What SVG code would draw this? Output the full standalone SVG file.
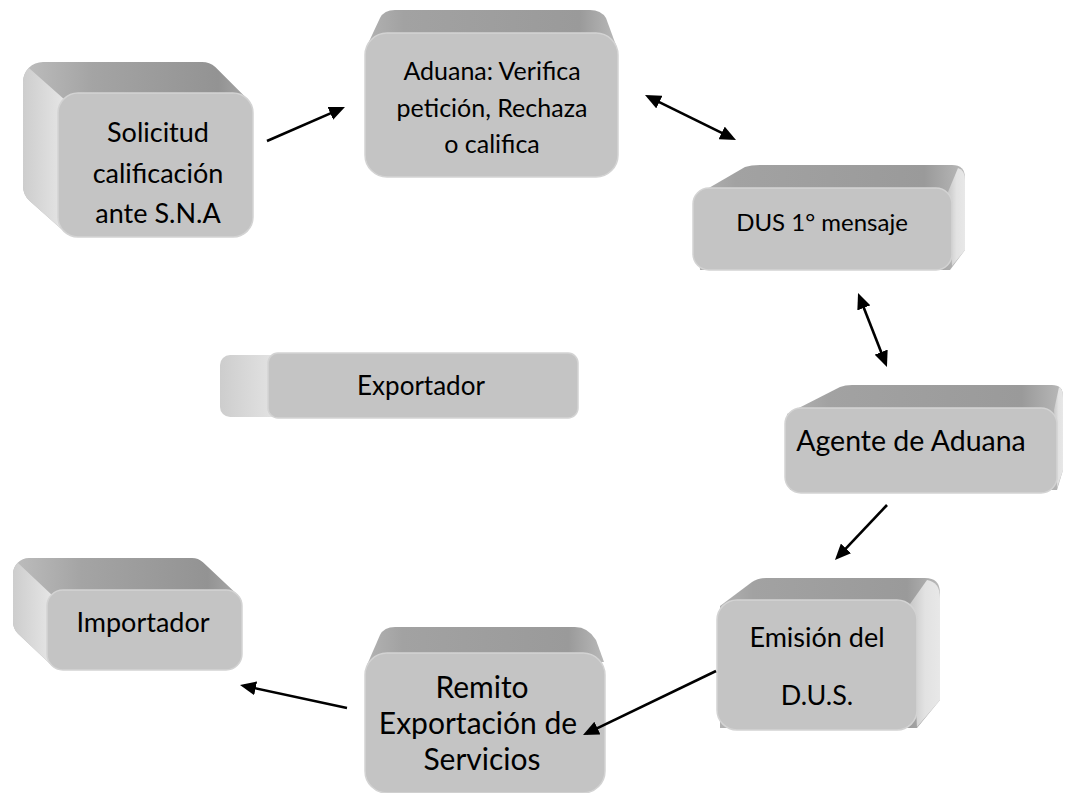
<svg xmlns="http://www.w3.org/2000/svg" width="1085" height="793" viewBox="0 0 1085 793">
<style>
.front{fill:#c4c4c4;stroke:#d3d3d3;stroke-width:1.5}
.top{fill:url(#gTop)}
.topv{fill:url(#gTopH)}
.side{fill:url(#gSide)}
.rside{fill:url(#gRSide)}
.t{font-family:Lato,"Liberation Sans",sans-serif;fill:#000;text-anchor:middle}
.conn line{stroke:#000;stroke-width:2.6;marker-end:url(#ah)}
.conn line.both{marker-start:url(#ah)}
</style>
<defs>
<linearGradient id="gTop" x1="0" y1="0" x2="1" y2="0">
<stop offset="0" stop-color="#bdbdbd"/><stop offset="0.3" stop-color="#a4a4a4"/><stop offset="0.85" stop-color="#939393"/><stop offset="1" stop-color="#ababab"/>
</linearGradient>
<linearGradient id="gTopH" x1="0" y1="0" x2="1" y2="0">
<stop offset="0" stop-color="#b2b2b2"/><stop offset="0.15" stop-color="#a2a2a2"/><stop offset="0.85" stop-color="#9a9a9a"/><stop offset="1" stop-color="#b9b9b9"/>
</linearGradient>
<linearGradient id="gSide" x1="0" y1="0" x2="1" y2="0">
<stop offset="0" stop-color="#cdcdcd"/><stop offset="1" stop-color="#e6e6e6"/>
</linearGradient>
<linearGradient id="gRSide" x1="0" y1="0" x2="1" y2="0">
<stop offset="0" stop-color="#c8c8c8"/><stop offset="0.5" stop-color="#e2e2e2"/><stop offset="1" stop-color="#e8e8e8"/>
</linearGradient>
<marker id="ah" markerUnits="userSpaceOnUse" markerWidth="16" markerHeight="14" refX="12" refY="7" orient="auto-start-reverse">
<path d="M0,0 L16,7 L0,14 Z" fill="#000"/>
</marker>
</defs>

<g id="n-solicitud">
<path class="top" d="M23,82 A20 20 0 0 1 43,62 L202,62 A20 20 0 0 1 215.3,67 L246.3,98 A20 20 0 0 1 253,113 L253,217 A20 20 0 0 1 233,237 L78,237 A20 20 0 0 1 64.7,232 L29.7,201 A20 20 0 0 1 23,186 Z"/>
<path class="side" d="M28.9,67.9 L63.9,98.9 L64.7,232 L29.7,201 A20 20 0 0 1 23,186 L23,82 A20 20 0 0 1 28.9,67.9 Z"/>
<rect class="front" x="58" y="93" width="195" height="144" rx="20"/>
<text class="t" font-size="27"><tspan x="158" y="142">Solicitud</tspan><tspan x="158" y="183">calificación</tspan><tspan x="158" y="223">ante S.N.A</tspan></text>
</g>

<g id="n-aduana">
<path class="topv" d="M366,48 L380,18 Q384,10 395,10 L590,10 Q601,10 606,18 L617,48 Z"/>
<rect class="front" x="365" y="33" width="253" height="144" rx="22"/>
<text class="t" font-size="25"><tspan x="492" y="80">Aduana: Verifica</tspan><tspan x="492" y="117">petición, Rechaza</tspan><tspan x="492" y="153">o califica</tspan></text>
</g>

<g id="n-dus">
<path class="topv" d="M695,196 L745,167 Q751,165 760,165 L952,165 Q965,165 965,178 L965,250 L950,270 L700,270 Z"/>
<path class="rside" d="M948,192 L958,168 Q965,170 965,180 L965,250 L952,266 Z"/>
<rect class="front" x="693" y="188" width="259" height="82" rx="16"/>
<text class="t" font-size="24" x="822" y="231">DUS 1° mensaje</text>
</g>

<g id="n-exportador">
<rect class="side" x="220" y="355" width="62" height="62" rx="10"/>
<rect class="front" x="268" y="353" width="310" height="65" rx="10"/>
<text class="t" font-size="26" x="421" y="395">Exportador</text>
</g>

<g id="n-agente">
<path class="topv" d="M787,414 L840,387 Q845,385 852,385 L1052,385 Q1063,385 1063,396 L1063,470 L1057,490 L790,490 Z"/>
<path class="rside" d="M1054,410 L1059,387 Q1063,389 1063,398 L1063,470 L1057,488 Z"/>
<rect class="front" x="785" y="408" width="272" height="85" rx="16"/>
<text class="t" font-size="28.5" x="911" y="451">Agente de Aduana</text>
</g>

<g id="n-importador">
<path class="top" d="M13,574 A16 16 0 0 1 29,558 L192,558 A16 16 0 0 1 202.96,562.35 L236.96,594.35 A16 16 0 0 1 242,606 L242,654 A16 16 0 0 1 226,670 L63,670 A16 16 0 0 1 52.04,665.65 L18.04,633.65 A16 16 0 0 1 13,622 Z"/>
<path class="side" d="M17.69,562.69 L51.69,594.69 L52.04,665.65 L18.04,633.65 A16 16 0 0 1 13,622 L13,574 A16 16 0 0 1 17.69,562.69 Z"/>
<rect class="front" x="47" y="590" width="195" height="80" rx="16"/>
<text class="t" font-size="27" x="143" y="632">Importador</text>
</g>

<g id="n-emision">
<path class="topv" d="M720,606 L752,582 Q758,578 766,578 L925,578 Q940,578 940,593 L940,700 L917,728 L720,728 Z"/>
<path class="rside" d="M910,604 L927,580 Q940,582 940,598 L940,700 L917,727 Z"/>
<rect class="front" x="717" y="600" width="200" height="130" rx="20"/>
<text class="t" font-size="27"><tspan x="817" y="647">Emisión del</tspan><tspan x="817" y="705">D.U.S.</tspan></text>
</g>

<g id="n-remito">
<path class="topv" d="M367,665 L380,635 Q384,627 395,627 L575,627 Q588,627 596,640 L604,662 Z"/>
<rect class="front" x="365" y="653" width="240" height="140" rx="22"/>
<text class="t" font-size="30"><tspan x="482" y="698">Remito</tspan><tspan x="478" y="734">Exportación de</tspan><tspan x="482" y="770">Servicios</tspan></text>
</g>

<g id="connectors" class="conn">
<line x1="267" y1="141" x2="341.3" y2="108.6"/>
<line class="both" x1="648.6" y1="96.8" x2="732.4" y2="138.2"/>
<line class="both" x1="859.5" y1="296.7" x2="885.5" y2="363.3"/>
<line x1="887" y1="505" x2="837.7" y2="557.1"/>
<line x1="716" y1="671" x2="586.6" y2="733.3"/>
<line x1="347" y1="708" x2="243.9" y2="685.8"/>
</g>
</svg>
